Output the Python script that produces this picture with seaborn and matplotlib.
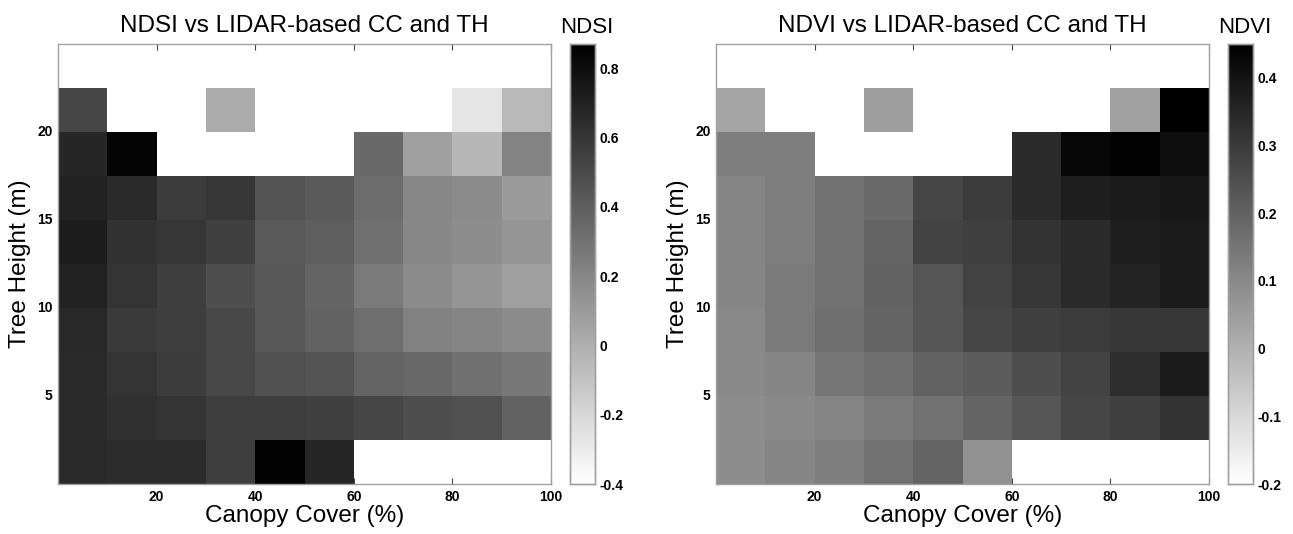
import numpy as np
import pandas as pd
import matplotlib
matplotlib.use("Agg")
import matplotlib.pyplot as plt
import seaborn as sns

nan = np.nan

# Canopy cover bins (%) and tree height bins (m), rows listed top (tall) to bottom
cc_edges = [0, 10, 20, 30, 40, 50, 60, 70, 80, 90, 100]
th_edges_top_down = [25, 22.5, 20, 17.5, 15, 12.5, 10, 7.5, 5, 2.5, 0]

# NDSI values, rows top (22.5-25 m) to bottom (0-2.5 m), columns CC 0-10 ... 90-100
ndsi = [
    [nan, nan, nan, nan, nan, nan, nan, nan, nan, nan],
    [0.52, nan, nan, 0.02, nan, nan, nan, nan, -0.27, -0.05],
    [0.68, 0.85, nan, nan, nan, nan, 0.35, 0.08, -0.04, 0.22],
    [0.70, 0.66, 0.57, 0.60, 0.45, 0.42, 0.33, 0.20, 0.18, 0.10],
    [0.73, 0.62, 0.60, 0.55, 0.42, 0.40, 0.31, 0.20, 0.17, 0.13],
    [0.70, 0.61, 0.56, 0.48, 0.43, 0.37, 0.26, 0.18, 0.13, 0.08],
    [0.67, 0.58, 0.56, 0.51, 0.43, 0.38, 0.32, 0.23, 0.21, 0.18],
    [0.66, 0.61, 0.57, 0.51, 0.47, 0.45, 0.37, 0.35, 0.31, 0.27],
    [0.66, 0.63, 0.61, 0.56, 0.56, 0.55, 0.52, 0.48, 0.47, 0.38],
    [0.66, 0.65, 0.65, 0.56, 0.86, 0.68, nan, nan, nan, nan],
]

# NDVI values, same layout
ndvi = [
    [nan, nan, nan, nan, nan, nan, nan, nan, nan, nan],
    [0.03, nan, nan, 0.05, nan, nan, nan, nan, 0.04, 0.445],
    [0.13, 0.13, nan, nan, nan, nan, 0.34, 0.43, 0.44, 0.41],
    [0.11, 0.13, 0.16, 0.18, 0.27, 0.30, 0.34, 0.37, 0.38, 0.39],
    [0.11, 0.13, 0.16, 0.195, 0.28, 0.29, 0.32, 0.34, 0.37, 0.38],
    [0.11, 0.14, 0.16, 0.20, 0.23, 0.28, 0.31, 0.34, 0.36, 0.38],
    [0.10, 0.14, 0.17, 0.195, 0.23, 0.27, 0.29, 0.30, 0.31, 0.31],
    [0.10, 0.11, 0.15, 0.17, 0.20, 0.215, 0.25, 0.28, 0.335, 0.38],
    [0.09, 0.10, 0.11, 0.14, 0.16, 0.195, 0.23, 0.27, 0.29, 0.32],
    [0.09, 0.11, 0.13, 0.16, 0.195, 0.08, nan, nan, nan, nan],
]

x_ticks = [20, 40, 60, 80, 100]
y_ticks = [5, 10, 15, 20]
ndsi_range = (-0.4, 0.87)
ndvi_range = (-0.2, 0.45)
ndsi_cbar_ticks = [-0.4, -0.2, 0, 0.2, 0.4, 0.6, 0.8]
ndsi_cbar_labels = ["-0.4", "-0.2", "0", "0.2", "0.4", "0.6", "0.8"]
ndvi_cbar_ticks = [-0.2, -0.1, 0, 0.1, 0.2, 0.3, 0.4]
ndvi_cbar_labels = ["-0.2", "-0.1", "0", "0.1", "0.2", "0.3", "0.4"]

sns.set_style("white")
plt.rcParams["font.family"] = ["Liberation Sans", "DejaVu Sans"]
plt.rcParams["text.color"] = "black"
plt.rcParams["axes.labelcolor"] = "black"
plt.rcParams["axes.titlecolor"] = "black"
plt.rcParams["xtick.labelcolor"] = "black"
plt.rcParams["ytick.labelcolor"] = "black"

W, H = 1293, 534
fig = plt.figure(figsize=(W / 100, H / 100), dpi=100)

def fx(px):
    return px / W

def fy(py):
    return 1 - py / H

panels = [
    (ndsi, ndsi_range, ndsi_cbar_ticks, ndsi_cbar_labels, "NDSI vs LIDAR-based CC and TH", "NDSI", 58, 570),
    (ndvi, ndvi_range, ndvi_cbar_ticks, ndvi_cbar_labels, "NDVI vs LIDAR-based CC and TH", "NDVI", 716, 1228),
]

frame_col = "#a0a0a0"
ncols = len(cc_edges) - 1
nrows = len(th_edges_top_down) - 1
cc_step = cc_edges[1] - cc_edges[0]
th_step = th_edges_top_down[0] - th_edges_top_down[1]

for data, (vmin, vmax), cticks, clabels, title, clabel, ax_x, cb_x in panels:
    ax = fig.add_axes([fx(ax_x), fy(484), fx(493), 440 / H])
    cax = fig.add_axes([fx(cb_x), fy(484), fx(25), 440 / H])
    df = pd.DataFrame(data)
    sns.heatmap(df, ax=ax, cbar_ax=cax, cmap="gray_r", vmin=vmin, vmax=vmax,
                linewidths=0, square=False)
    ax.set_xlim(0, ncols)
    ax.set_ylim(nrows, 0)
    ax.set_xticks([v / cc_step for v in x_ticks])
    ax.set_xticklabels([str(v) for v in x_ticks], rotation=0)
    ax.set_yticks([(th_edges_top_down[0] - v) / th_step for v in y_ticks])
    ax.set_yticklabels([str(v) for v in y_ticks], rotation=0)
    for lab in ax.get_xticklabels() + ax.get_yticklabels():
        lab.set_fontweight("bold")
        lab.set_fontsize(10)
        lab.set_color("black")
    ax.tick_params(axis="both", direction="in", length=4, width=0.8, color="#444444",
                   labelcolor="black",
                   top=True, right=True, bottom=True, left=True, pad=4)
    for sp in ax.spines.values():
        sp.set_visible(True)
        sp.set_color(frame_col)
        sp.set_linewidth(1.0)
    ax.set_title(title, fontsize=17.5, pad=9, color="black")
    ax.set_xlabel("Canopy Cover (%)", fontsize=17.5, labelpad=1, color="black")
    ax.set_ylabel("Tree Height (m)", fontsize=17.5, labelpad=4, color="black")

    cax.set_yticks(cticks)
    cax.set_yticklabels(clabels)
    for lab in cax.get_yticklabels():
        lab.set_fontweight("bold")
        lab.set_fontsize(10)
        lab.set_color("black")
    cax.tick_params(axis="y", direction="in", length=3, width=0.6, color="#555555",
                    labelcolor="black", left=True, right=True, pad=3)
    cax.set_title(clabel, fontsize=16, pad=8, x=0.65, color="black")
    for sp in cax.spines.values():
        sp.set_visible(True)
        sp.set_color(frame_col)
        sp.set_linewidth(1.0)

fig.savefig("out.png", dpi=100, facecolor="white")
